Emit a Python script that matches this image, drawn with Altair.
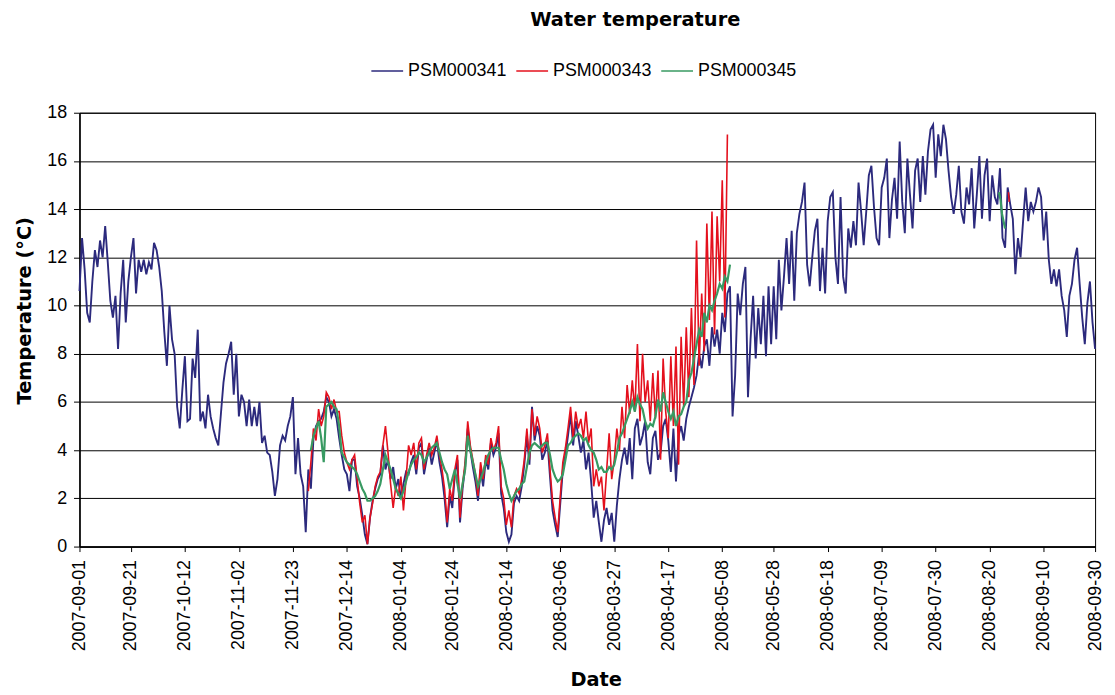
import json
import altair as alt
import pandas as pd

# ---------------- data ----------------
series_names = ["PSM000341", "PSM000343", "PSM000345"]
series_colors = ["#2C2A7D", "#E4101D", "#389A62"]
series_widths = [1.9, 1.6, 2.2]

# x = days since 2007-09-01
tick_days = [0, 20, 41, 62, 83, 104, 125, 145, 166, 187, 208, 229, 250, 270,
             291, 312, 333, 354, 375, 395]
tick_labels = ["2007-09-01", "2007-09-21", "2007-10-12", "2007-11-02", "2007-11-23",
               "2007-12-14", "2008-01-04", "2008-01-24", "2008-02-14", "2008-03-06",
               "2008-03-27", "2008-04-17", "2008-05-08", "2008-05-28", "2008-06-18",
               "2008-07-09", "2008-07-30", "2008-08-20", "2008-09-10", "2008-09-30"]
y_ticks = [0, 2, 4, 6, 8, 10, 12, 14, 16, 18]

blue_start = 0
blue_values = [
    10.6, 12.8, 11.5, 9.7, 9.3, 11.0, 12.3, 11.6, 12.7, 12.0,
    13.3, 11.8, 10.2, 9.5, 10.4, 8.2, 10.5, 11.9, 9.3, 11.0,
    12.0, 12.8, 10.5, 11.9, 11.4, 11.9, 11.3, 11.8, 11.5, 12.6,
    12.3, 11.6, 10.6, 8.9, 7.5, 10.0, 8.6, 8.0, 5.8, 4.9,
    6.5, 7.9, 5.2, 5.3, 7.8, 7.0, 9.0, 5.2, 5.6, 4.9,
    6.3, 5.4, 4.9, 4.5, 4.2, 5.5, 6.8, 7.6, 8.0, 8.5,
    6.3, 8.0, 5.4, 6.3, 6.0, 5.0, 6.1, 5.0, 5.8, 5.0,
    6.0, 4.3, 4.6, 3.9, 3.8, 3.1, 2.1, 2.8, 4.2, 4.6,
    4.4, 5.0, 5.4, 6.2, 3.0, 4.5, 3.0, 2.5, 0.6, 3.2,
    2.4, 4.5, 5.0, 5.2, 5.3, 5.6, 6.2, 6.0, 5.4, 5.7,
    5.3, 4.5, 3.8, 3.2, 3.0, 2.3, 3.6, 3.6, 2.5, 2.0,
    1.3, 0.5, 0.1, 1.2, 1.9, 2.4, 2.8, 3.0, 4.2, 3.2,
    3.6, 2.8, 3.3, 2.4, 2.8, 2.0, 2.6, 3.1, 3.0, 3.5,
    3.8, 3.0, 4.1, 4.3, 3.0, 3.6, 4.1, 3.4, 3.9, 4.4,
    3.5, 2.9, 2.0, 0.8, 2.1, 1.6, 3.0, 3.6, 1.0, 2.4,
    3.3, 4.9, 4.0, 3.3, 2.7, 1.9, 3.2, 2.5, 3.6, 3.2,
    4.3, 3.8, 4.1, 4.7, 2.2, 1.6, 0.6, 0.2, 0.5, 1.8,
    2.1, 1.9, 2.5, 3.4, 4.6, 3.4, 5.8, 4.4, 5.0, 4.6,
    3.6, 3.9, 4.4, 2.9, 1.5, 0.9, 0.4, 1.8, 3.2, 3.8,
    4.6, 5.5, 4.2, 5.2, 4.6, 3.9, 4.4, 3.2, 3.9, 2.7,
    1.2, 1.9, 1.0, 0.2, 1.1, 1.6, 0.9, 1.4, 0.2, 1.7,
    2.8, 3.6, 4.1, 3.4, 4.5, 2.8, 4.9, 5.3, 4.2, 4.6,
    5.2, 3.5, 3.0, 4.5, 4.8, 3.6, 3.9, 5.0, 5.3, 4.4,
    3.1, 4.9, 2.7, 4.6, 5.0, 4.4, 5.3, 5.8, 6.2, 6.6,
    7.1, 8.0, 7.4, 8.3, 8.6, 7.5, 9.1, 8.3, 9.0, 8.0,
    9.7, 8.9, 10.5, 10.8, 5.4, 7.1, 10.5, 9.6, 10.9, 11.6,
    6.2, 8.6, 10.4, 7.8, 9.9, 8.4, 10.4, 7.9, 10.8, 8.4,
    10.8, 8.6, 11.9, 9.8, 11.2, 12.8, 10.9, 13.1, 10.2, 13.0,
    13.8, 14.3, 15.1, 11.7, 10.8, 12.0, 13.1, 13.6, 10.6, 12.4,
    10.5, 13.5, 14.5, 14.7, 12.0, 10.9, 14.5, 11.2, 10.5, 13.2,
    12.4, 13.5, 12.5, 15.1, 13.9, 12.5, 13.9, 15.4, 15.8, 14.1,
    12.8, 12.5, 14.9, 15.3, 16.1, 12.8, 14.4, 15.3, 13.6, 16.8,
    14.3, 13.0, 16.1, 14.6, 13.2, 15.6, 16.1, 14.3, 16.2, 14.6,
    16.4, 17.3, 17.5, 15.3, 17.1, 16.2, 17.5, 16.9, 15.6, 14.5,
    13.8, 14.6, 15.8, 13.9, 13.4, 14.9, 14.2, 15.7, 13.2, 14.6,
    16.2, 13.6, 15.4, 16.1, 13.5, 15.4, 14.5, 14.2, 15.7, 12.8,
    12.4, 14.9, 14.2, 13.6, 11.3, 12.8, 12.0, 13.5, 14.9, 13.5,
    14.3, 13.9, 14.3, 14.9, 14.5, 12.7, 13.9, 11.9, 10.9, 11.5,
    10.8, 11.5, 10.4, 9.8, 8.7, 10.4, 10.9, 11.9, 12.4, 10.9,
    9.5, 8.4, 10.1, 11.0, 9.3, 8.2,
]

red_start = 89
red_values = [
    2.3, 3.5, 4.9, 4.4, 5.7, 5.0, 5.4, 6.4, 6.2, 5.7, 6.1,
    5.6, 5.6, 4.6, 3.9, 3.5, 3.2, 3.6, 3.8, 2.8, 1.8,
    1.0, 1.3, 0.1, 1.2, 1.8, 2.5, 2.9, 3.1, 4.2, 5.0,
    3.9, 2.6, 1.6, 2.5, 2.1, 2.9, 1.5, 2.8, 4.2, 3.8,
    4.3, 3.2, 4.3, 4.5, 3.2, 3.8, 4.3, 3.8, 4.1, 4.6,
    3.8, 3.2, 2.4, 1.0, 2.4, 1.9, 3.2, 3.8, 1.2, 2.6,
    3.5, 5.2, 4.2, 3.6, 3.0, 2.1, 3.5, 2.8, 3.8, 3.4,
    4.5, 4.0, 4.3, 5.0, 2.5, 2.0, 0.9, 1.5, 0.8, 2.1,
    2.4, 2.2, 2.8, 3.6, 4.9, 3.6, 5.7, 4.6, 5.4, 4.9,
    3.9, 4.2, 4.7, 3.2, 1.9, 1.2, 0.6, 2.1, 3.5, 4.1,
    4.9, 5.8, 4.5, 5.6, 4.9, 5.3, 4.5, 5.6, 4.3, 4.9,
    2.5, 3.2, 2.5, 2.9, 1.5, 3.1, 4.7, 2.8, 3.6, 4.9,
    4.0, 5.8, 4.5, 6.7, 5.5, 6.9, 5.6, 8.4, 5.2, 8.0,
    6.0, 6.9, 5.2, 7.2, 5.3, 7.3, 3.6, 7.8, 5.6, 4.5,
    7.9, 5.0, 8.3, 3.4, 8.7, 5.8, 9.1, 6.2, 9.9, 6.7,
    12.7, 7.5, 10.5, 8.1, 13.4, 9.4, 13.9, 8.8, 13.7, 11.0,
    15.2, 9.5, 17.1,
]

green_start = 90
green_values = [
    4.0, 4.6, 4.9, 5.2, 4.5, 3.5, 5.8, 5.9, 6.0, 5.8,
    5.7, 5.0, 3.9, 3.7, 3.5, 3.4, 3.3, 3.2, 3.0, 2.7,
    2.4, 2.2, 1.9, 1.9, 2.0, 2.1, 2.3, 2.6, 3.2, 3.8,
    3.5, 3.2, 2.8, 2.4, 2.2, 2.0, 2.3, 2.7, 3.1, 3.4,
    3.6, 3.7, 3.9, 3.8, 3.5, 3.7, 3.9, 4.1, 4.2, 4.3,
    3.9, 3.5, 3.2, 3.0, 2.4, 2.8, 3.2, 2.6, 2.0, 2.6,
    3.2, 4.6, 4.0, 3.5, 3.0, 2.5, 2.8, 3.1, 3.5, 3.8,
    4.0, 4.1, 4.1, 4.1, 3.6, 3.2, 2.6, 2.2, 1.9, 2.1,
    2.3, 2.4, 2.6, 2.7, 3.3, 3.9, 4.2, 4.3, 4.2, 4.1,
    4.2, 4.3, 4.3, 3.8, 3.2, 2.9, 2.7, 2.8, 3.0, 3.6,
    4.2, 4.3, 4.5, 4.6, 4.7, 4.6, 4.4, 4.5, 4.2, 4.0,
    3.9, 3.6, 3.2, 3.3, 3.1, 3.1, 3.3, 3.2, 3.4, 3.9,
    4.5, 4.7, 5.0, 5.3, 5.6, 6.0, 5.6, 6.2, 5.9, 5.7,
    5.2, 4.9, 5.1, 5.0, 5.4, 6.1, 5.6, 6.4, 6.0, 5.6,
    5.3, 5.6, 5.0, 5.4, 5.5, 5.8, 6.0, 6.9, 7.2, 7.8,
    8.4, 9.0, 8.7, 9.7, 9.3, 10.0, 9.8, 10.2, 10.5, 10.9,
    10.7, 11.2, 11.0, 11.7,
]

# short late-summer fragments
green_late_days = [357.6, 358.2, 358.8, 359.4, 360.0]
green_late_values = [14.7, 14.4, 13.8, 13.5, 13.2]
red_late_days = [361.3, 361.6]
red_late_values = [14.7, 14.3]

# ---------------- table ----------------
rows = []
for i, v in enumerate(blue_values):
    rows.append({"day": blue_start + i, "temp": v, "series": series_names[0], "segment": "a"})
for i, v in enumerate(red_values):
    rows.append({"day": red_start + i, "temp": v, "series": series_names[1], "segment": "a"})
for d, v in zip(red_late_days, red_late_values):
    rows.append({"day": d, "temp": v, "series": series_names[1], "segment": "b"})
for i, v in enumerate(green_values):
    rows.append({"day": green_start + i, "temp": v, "series": series_names[2], "segment": "a"})
for d, v in zip(green_late_days, green_late_values):
    rows.append({"day": d, "temp": v, "series": series_names[2], "segment": "b"})
df = pd.DataFrame(rows)

label_expr = f"{json.dumps(tick_labels)}[indexof({json.dumps(tick_days)}, datum.value)]"

REG = "Liberation Sans"
BOLD = "DejaVu Sans"

x_enc = alt.X(
    "day:Q",
    scale=alt.Scale(domain=[0, 395], nice=False, zero=False),
    axis=alt.Axis(
        values=tick_days, labelExpr=label_expr, labelAngle=270,
        labelFont=REG, labelFontSize=18, labelColor="#000", labelPadding=8,
        labelOverlap=False, labelBound=False, labelFlush=False,
        tickSize=5, tickColor="#000", tickWidth=1,
        domainColor="#000", domainWidth=1.5, grid=False,
        title="Date", titleFont=BOLD, titleFontSize=19.5, titleFontWeight="bold",
        titleColor="#000", titleX=520, titleY=140, titleAlign="center",
        titleBaseline="alphabetic", titleAnchor="start",
    ),
)
y_enc = alt.Y(
    "temp:Q",
    scale=alt.Scale(domain=[0, 18], nice=False, zero=True),
    axis=alt.Axis(
        values=y_ticks, labelFont=REG, labelFontSize=18, labelColor="#000",
        labelPadding=7, tickSize=6, tickColor="#000", tickWidth=1,
        domainColor="#000", domainWidth=1.5,
        grid=True, gridColor="#000", gridWidth=1,
        title="Temperature (°C)", titleFont=BOLD, titleFontSize=19.5,
        titleFontWeight="bold", titleColor="#000", titleAngle=270,
        titleX=-49, titleY=199, titleAlign="center", titleBaseline="alphabetic",
        titleAnchor="start",
    ),
)
color_enc = alt.Color(
    "series:N",
    scale=alt.Scale(domain=series_names, range=series_colors),
    legend=alt.Legend(
        orient="none", legendX=293, legendY=-59, direction="horizontal",
        title=None, symbolType="stroke", symbolSize=1024, symbolStrokeWidth=1.5,
        labelFont=REG, labelFontSize=18, labelColor="#000", labelOffset=4,
        columnPadding=6, padding=0, labelLimit=300,
    ),
)

layers = [
    alt.Chart(df)
    .mark_line(strokeWidth=w)
    .encode(x=x_enc, y=y_enc, color=color_enc, detail="segment:N")
    .transform_filter(alt.datum.series == s)
    for s, w in zip(series_names, series_widths)
]

chart = (
    alt.layer(*layers)
    .properties(
        width=1023,
        height=437,
        title=alt.Title(
            "Water temperature", font=BOLD, fontSize=19.5, fontWeight="bold",
            color="#000", anchor="start", frame="group", dx=454, offset=24,
        ),
        autosize=alt.AutoSizeParams(type="none"),
        padding={"left": 72, "top": 103, "right": 12, "bottom": 145},
        background="white",
    )
    .configure_view(stroke="#000", strokeWidth=1)
)

chart.save("out.html", embed_options={"renderer": "svg", "actions": False})
